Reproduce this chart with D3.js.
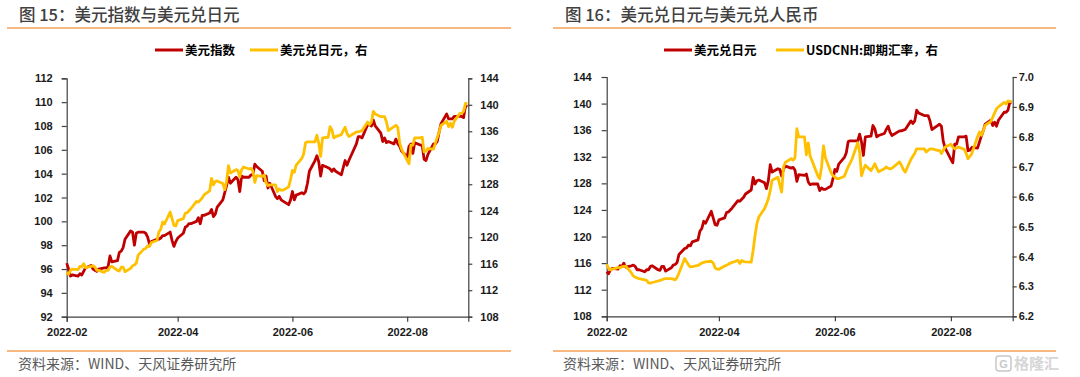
<!DOCTYPE html>
<html><head><meta charset="utf-8">
<script src="https://cdn.jsdelivr.net/npm/d3@7"></script>
<style>
html,body{margin:0;padding:0;background:#fff;}
svg{display:block;}
</style></head><body>
<svg id="c" width="1080" height="377"></svg>
<script>
// ---------- DATA ----------
const dates = [
"2022-02-01","2022-02-02","2022-02-03","2022-02-04","2022-02-07","2022-02-08","2022-02-09","2022-02-10","2022-02-11","2022-02-14","2022-02-15","2022-02-16","2022-02-17","2022-02-18","2022-02-21","2022-02-22","2022-02-23","2022-02-24","2022-02-25","2022-02-28",
"2022-03-01","2022-03-02","2022-03-03","2022-03-04","2022-03-07","2022-03-08","2022-03-09","2022-03-10","2022-03-11","2022-03-14","2022-03-15","2022-03-16","2022-03-17","2022-03-18","2022-03-21","2022-03-22","2022-03-23","2022-03-24","2022-03-25","2022-03-28","2022-03-29","2022-03-30","2022-03-31",
"2022-04-01","2022-04-04","2022-04-05","2022-04-06","2022-04-07","2022-04-08","2022-04-11","2022-04-12","2022-04-13","2022-04-14","2022-04-15","2022-04-18","2022-04-19","2022-04-20","2022-04-21","2022-04-22","2022-04-25","2022-04-26","2022-04-27","2022-04-28","2022-04-29",
"2022-05-02","2022-05-03","2022-05-04","2022-05-05","2022-05-06","2022-05-09","2022-05-10","2022-05-11","2022-05-12","2022-05-13","2022-05-16","2022-05-17","2022-05-18","2022-05-19","2022-05-20","2022-05-23","2022-05-24","2022-05-25","2022-05-26","2022-05-27","2022-05-30","2022-05-31",
"2022-06-01","2022-06-02","2022-06-03","2022-06-06","2022-06-07","2022-06-08","2022-06-09","2022-06-10","2022-06-13","2022-06-14","2022-06-15","2022-06-16","2022-06-17","2022-06-20","2022-06-21","2022-06-22","2022-06-23","2022-06-24","2022-06-27","2022-06-28","2022-06-29","2022-06-30",
"2022-07-01","2022-07-05","2022-07-06","2022-07-07","2022-07-08","2022-07-11","2022-07-12","2022-07-13","2022-07-14","2022-07-15","2022-07-18","2022-07-19","2022-07-20","2022-07-21","2022-07-22","2022-07-25","2022-07-26","2022-07-27","2022-07-28","2022-07-29",
"2022-08-01","2022-08-02","2022-08-03","2022-08-04","2022-08-05","2022-08-08","2022-08-09","2022-08-10","2022-08-11","2022-08-12","2022-08-15","2022-08-16","2022-08-17","2022-08-18","2022-08-19","2022-08-22","2022-08-23","2022-08-24","2022-08-25","2022-08-26","2022-08-29","2022-08-30","2022-08-31",
"2022-09-01","2022-09-02"];

const dxy = [
96.5,96.0,95.4,95.5,95.4,95.6,95.5,95.8,96.1,96.3,96.0,95.9,95.8,96.0,96.1,96.1,96.2,97.1,96.6,96.7,
97.4,97.5,97.8,98.5,99.2,99.1,98.0,99.0,99.1,99.1,99.0,98.7,98.1,98.3,98.5,98.5,98.6,98.8,98.8,99.1,98.4,97.9,98.3,
98.6,99.0,99.5,99.6,99.8,99.8,100.0,100.3,99.8,100.5,100.5,100.7,101.0,100.4,100.6,101.2,101.8,102.4,103.0,103.7,103.2,
103.7,103.5,102.5,103.8,103.7,103.7,103.9,103.9,104.8,104.6,104.2,103.4,103.8,102.8,103.2,102.1,101.9,102.1,101.8,101.7,101.4,101.8,
102.5,101.8,102.2,102.4,102.3,102.5,103.2,104.2,105.1,105.5,105.0,103.8,104.7,104.5,104.4,104.2,104.4,104.2,103.9,104.5,105.1,104.7,
105.1,106.5,107.1,107.1,107.0,108.1,108.1,108.0,108.5,108.0,107.4,106.7,107.0,106.6,106.7,106.5,106.9,106.5,106.3,105.9,
105.4,106.3,106.5,105.7,106.6,106.4,106.4,105.2,105.1,105.6,106.5,106.5,106.7,107.5,108.2,109.0,108.6,108.6,108.6,108.8,108.8,108.8,108.7,
109.7,109.6];

const usdjpy = [
114.7,114.4,115.0,115.2,115.1,115.6,115.5,116.0,115.4,115.6,115.7,115.5,115.0,115.0,114.7,115.0,115.0,115.5,115.6,115.0,
114.9,115.5,115.5,114.8,115.3,115.7,115.8,116.1,117.3,118.2,118.3,118.7,118.6,119.2,119.5,120.8,121.2,122.3,122.0,123.8,122.8,121.8,121.7,
122.5,122.8,123.6,123.7,124.0,124.3,125.4,125.3,125.6,125.9,126.4,127.0,128.9,127.9,128.4,128.5,128.1,127.2,128.4,130.8,129.7,
130.2,130.1,129.1,130.2,130.6,130.3,130.4,130.0,128.3,129.3,129.2,129.4,128.2,127.8,127.9,127.9,126.9,127.3,127.1,127.1,127.6,128.7,
130.1,129.8,130.9,131.9,132.6,134.3,134.4,134.4,134.4,135.4,134.2,132.2,135.0,135.1,136.7,136.2,135.0,135.2,135.5,136.1,136.6,135.7,
135.2,135.9,135.9,136.0,136.1,137.4,137.0,137.4,139.0,138.6,138.2,138.2,138.2,137.4,136.1,136.7,136.9,136.6,134.3,133.3,
131.6,131.1,133.9,133.9,135.0,135.0,135.1,132.9,133.0,133.4,133.3,134.2,135.1,135.9,136.9,137.5,136.7,137.2,136.6,137.5,138.7,138.7,139.0,
140.2,140.2];

const usdcnh = [
6.374,6.360,6.355,6.358,6.363,6.363,6.365,6.367,6.368,6.345,6.335,6.331,6.328,6.326,6.322,6.320,6.312,6.311,6.313,6.318,
6.320,6.322,6.325,6.326,6.326,6.324,6.322,6.330,6.345,6.393,6.382,6.372,6.365,6.366,6.370,6.374,6.378,6.380,6.382,6.384,6.378,6.362,6.358,
6.357,6.368,6.371,6.374,6.378,6.380,6.387,6.376,6.387,6.383,6.382,6.381,6.420,6.470,6.510,6.532,6.560,6.575,6.593,6.620,6.655,
6.665,6.640,6.615,6.700,6.715,6.727,6.722,6.730,6.827,6.800,6.800,6.740,6.780,6.735,6.720,6.670,6.660,6.700,6.770,6.730,6.680,6.670,
6.665,6.660,6.660,6.668,6.685,6.700,6.712,6.725,6.780,6.750,6.670,6.690,6.705,6.687,6.698,6.710,6.695,6.683,6.693,6.699,6.695,6.693,
6.695,6.716,6.705,6.690,6.682,6.725,6.735,6.745,6.760,6.760,6.760,6.749,6.755,6.760,6.760,6.755,6.755,6.744,6.755,6.766,
6.775,6.766,6.760,6.763,6.766,6.758,6.745,6.727,6.735,6.744,6.800,6.816,6.805,6.820,6.838,6.852,6.865,6.880,6.894,6.900,6.915,6.910,6.920,
6.918,6.916];

const xTickLabels = ["2022-02","2022-04","2022-06","2022-08"];
const leftTicksA = [92,94,96,98,100,102,104,106,108,110,112];
const rightTicksA = [108,112,116,120,124,128,132,136,140,144];
const leftTicksB = [108,112,116,120,124,128,132,136,140,144];
const rightTicksB = [6.2,6.3,6.4,6.5,6.6,6.7,6.8,6.9,7.0];

const titles = ["图 15：美元指数与美元兑日元","图 16：美元兑日元与美元兑人民币"];
const legendA = ["美元指数","美元兑日元，右"];
const legendB = ["美元兑日元","USDCNH:即期汇率，右"];
const source = "资料来源：WIND、天风证券研究所";

// ---------- STYLE ----------
const RED = "#C00000", YEL = "#FFC000", ORANGE = "#F5A05A", AX = "#404040";
const CJK = "'Noto Sans CJK SC','Noto Sans',sans-serif";
const NUM = "'Liberation Sans',Arial,sans-serif";

const svg = d3.select("#c");
const parse = d3.timeParse("%Y-%m-%d");
const pm = d3.timeParse("%Y-%m");
const T = dates.map(parse);

function panel(o) {
  const g = svg.append("g");
  g.append("line").attr("x1",o.px0).attr("x2",o.px1).attr("y1",28).attr("y2",28)
    .attr("stroke",ORANGE).attr("stroke-width",1.5);
  g.append("line").attr("x1",o.px0).attr("x2",o.px1).attr("y1",351).attr("y2",351)
    .attr("stroke",ORANGE).attr("stroke-width",1.5);
  g.append("text").attr("x",o.titleX).attr("y",21).text(o.title)
    .attr("font-family",CJK).attr("font-size","16.5px").attr("font-weight",500).attr("fill","#404040");
  g.append("text").attr("x",o.srcX).attr("y",369).text(source)
    .attr("font-family",CJK).attr("font-size","14px").attr("fill","#595959");

  o.legend.forEach(L=>{
    g.append("line").attr("x1",L.x).attr("x2",L.x+28).attr("y1",50).attr("y2",50)
      .attr("stroke",L.c).attr("stroke-width",3);
    g.append("text").attr("x",L.x+30).attr("y",54.5).text(L.t)
      .attr("font-family",CJK).attr("font-size","12.5px").attr("font-weight",700).attr("fill","#000");
  });

  const x = d3.scaleTime().domain([parse("2022-02-01"), new Date(2022,8,2,12)]).range([o.x0,o.x1]);
  const yL = d3.scaleLinear().domain(o.lDom).range([o.yB,o.yT]);
  const yR = d3.scaleLinear().domain(o.rDom).range([o.yB,o.yT]);

  const styleAxis = sel => {
    sel.select(".domain").attr("stroke",AX).attr("stroke-width",1.2);
    sel.selectAll(".tick line").attr("stroke",AX).attr("stroke-width",1.2);
    sel.selectAll(".tick text").attr("font-family",NUM).attr("font-size","11px")
      .attr("font-weight",700).attr("fill","#1a1a1a");
  };

  g.append("g").attr("transform",`translate(${o.x0},0)`)
    .call(d3.axisLeft(yL).tickValues(o.lTicks).tickFormat(o.lFmt).tickSizeOuter(0).tickSize(5).tickPadding(o.lPad))
    .call(styleAxis);
  g.append("g").attr("transform",`translate(${o.x1},0)`)
    .call(d3.axisRight(yR).tickValues(o.rTicks).tickFormat(o.rFmt).tickSizeOuter(0).tickSize(4).tickPadding(o.rPad))
    .call(styleAxis);
  g.append("g").attr("transform",`translate(0,${o.yB})`)
    .call(d3.axisBottom(x).tickValues(xTickLabels.map(pm)).tickFormat(d3.timeFormat("%Y-%m")).tickSizeOuter(0).tickSize(5).tickPadding(7))
    .call(styleAxis);

  o.series.forEach(s=>{
    const ys = s.axis==="L" ? yL : yR;
    const line = d3.line().x((d,i)=>x(T[i])).y(d=>ys(d));
    g.append("path").datum(s.v).attr("d",line).attr("fill","none")
      .attr("stroke",s.c).attr("stroke-width",2.8).attr("stroke-linejoin","round");
  });
}

panel({
  px0:7, px1:511, titleX:19, srcX:18, title:titles[0],
  legend:[{x:155,c:RED,t:legendA[0]},{x:250,c:YEL,t:legendA[1]}],
  x0:66.7, x1:468.3, yT:78.3, yB:316.7,
  lDom:[92,112], lTicks:leftTicksA, lFmt:d3.format("d"), lPad:9,
  rDom:[108,144], rTicks:rightTicksA, rFmt:d3.format("d"), rPad:8,
  series:[{v:dxy,axis:"L",c:RED},{v:usdjpy,axis:"R",c:YEL}]
});
panel({
  px0:553, px1:1056, titleX:565, srcX:563, title:titles[1],
  legend:[{x:664,c:RED,t:legendB[0]},{x:776,c:YEL,t:legendB[1]}],
  x0:606.7, x1:1012.7, yT:77, yB:316.3,
  lDom:[108,144], lTicks:leftTicksB, lFmt:d3.format("d"), lPad:10,
  rDom:[6.2,7.0], rTicks:rightTicksB, rFmt:d3.format(".1f"), rPad:2,
  series:[{v:usdjpy,axis:"L",c:RED},{v:usdcnh,axis:"R",c:YEL}]
});

// watermark
const wm = svg.append("g").attr("fill","none").attr("stroke","#c8c8c8");
wm.append("rect").attr("x",996).attr("y",356).attr("width",15).attr("height",15).attr("rx",3).attr("stroke-width",1.5);
wm.append("text").attr("x",1003.5).attr("y",368).attr("text-anchor","middle").text("G")
  .attr("font-family",NUM).attr("font-size","11px").attr("font-weight",700).attr("fill","#c8c8c8").attr("stroke","none");
wm.append("text").attr("x",1014).attr("y",369).text("格隆汇")
  .attr("font-family",CJK).attr("font-size","15px").attr("font-weight",700).attr("fill","#d6d6d6").attr("stroke","none");
</script>
</body></html>
